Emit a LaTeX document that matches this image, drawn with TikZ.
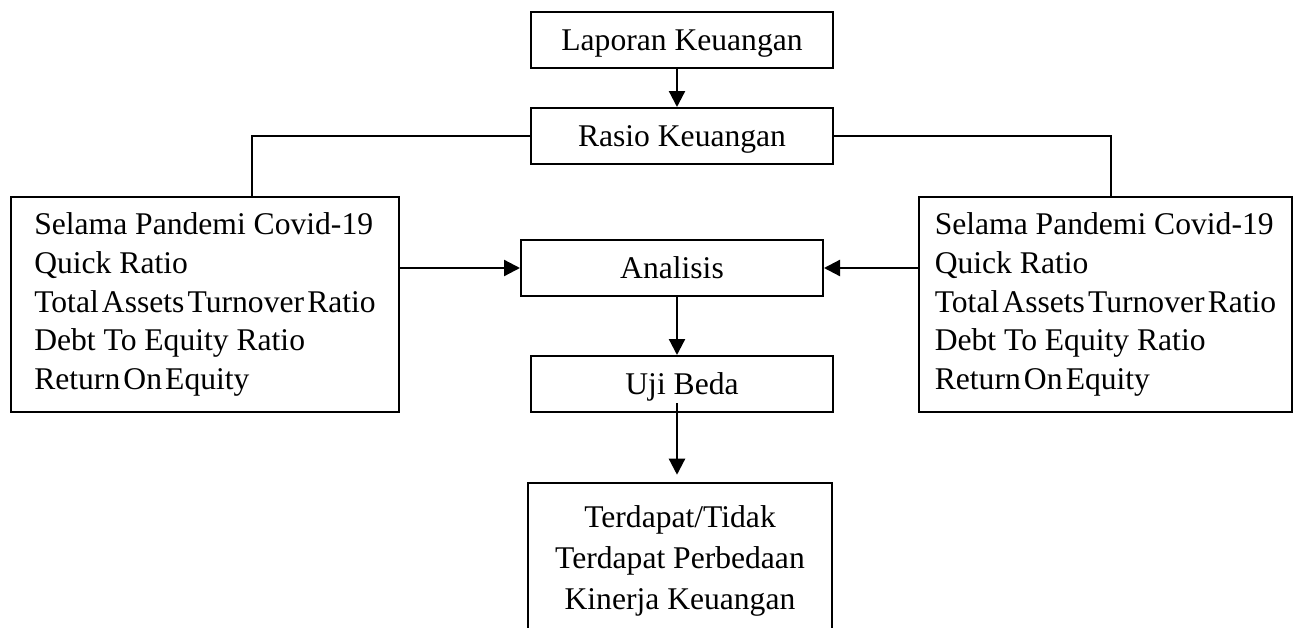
\documentclass[tikz,border=0pt]{standalone}
\usepackage{fontspec}
\setmainfont{Liberation Serif}
\usetikzlibrary{arrows.meta}
\begin{document}
\begin{tikzpicture}[x=0.75pt,y=-0.75pt,
  box/.style={draw, line width=1.5pt, inner sep=0pt, font=\fontsize{23.7}{29}\selectfont},
  single/.style={box, minimum width=226.5pt, minimum height=42pt, text height=15pt, text depth=0pt},
  side/.style={box, align=left, minimum height=161.25pt, font=\fontsize{23.7}{29.1}\selectfont},
  arr/.style={line width=1.7pt, -{Triangle[length=12pt,width=12pt]}},
  ln/.style={line width=1.6pt}]
\useasboundingbox (0,0) rectangle (1299,628);
\clip (0,0) rectangle (1299,628);
\newcommand{\tsp}{\hspace{0.1em}}
\node[single] (laporan) at (682,40) {Laporan Keuangan};
\node[single] (rasio) at (682,136) {Rasio Keuangan};
\node[single] (analisis) at (672,268) {Analisis};
\node[single] (uji) at (682,384) {Uji Beda};
\node[side, minimum width=291pt] (kiri) at (205,304.5) {Selama Pandemi Covid-19\\Quick Ratio\\Total\tsp Assets\tsp Turnover\tsp Ratio\\Debt To Equity Ratio\\Return\tsp On\tsp Equity};
\node[side, minimum width=279.75pt] (kanan) at (1105.5,304.5) {Selama Pandemi Covid-19\\Quick Ratio\\Total\tsp Assets\tsp Turnover\tsp Ratio\\Debt To Equity Ratio\\Return\tsp On\tsp Equity};
\node[inner sep=0pt, align=center, minimum width=228pt, minimum height=117pt, font=\fontsize{23.7}{30.7}\selectfont] (hasil) at (680,561) {Terdapat/Tidak\\Terdapat Perbedaan\\Kinerja Keuangan};
\draw[line width=1.5pt] ([yshift=-30pt]hasil.south west) -- (hasil.north west) -- (hasil.north east) -- ([yshift=-30pt]hasil.south east);
\coordinate (ax) at (677,0);
\coordinate (lx) at (252,0);
\coordinate (rx) at (1111,0);
\coordinate (ujistart) at (677,403);
\draw[arr] (laporan.south -| ax) -- (rasio.north -| ax);
\draw[ln] (rasio.west) -| (kiri.north -| lx);
\draw[ln] (rasio.east) -| (kanan.north -| rx);
\draw[arr] (kiri.east |- analisis.west) -- (analisis.west);
\draw[arr] (kanan.west |- analisis.east) -- (analisis.east);
\draw[arr] (analisis.south -| ax) -- (uji.north -| ax);
\draw[arr, shorten >=6pt] (ujistart) -- (hasil.north -| ax);
\end{tikzpicture}
\end{document}
